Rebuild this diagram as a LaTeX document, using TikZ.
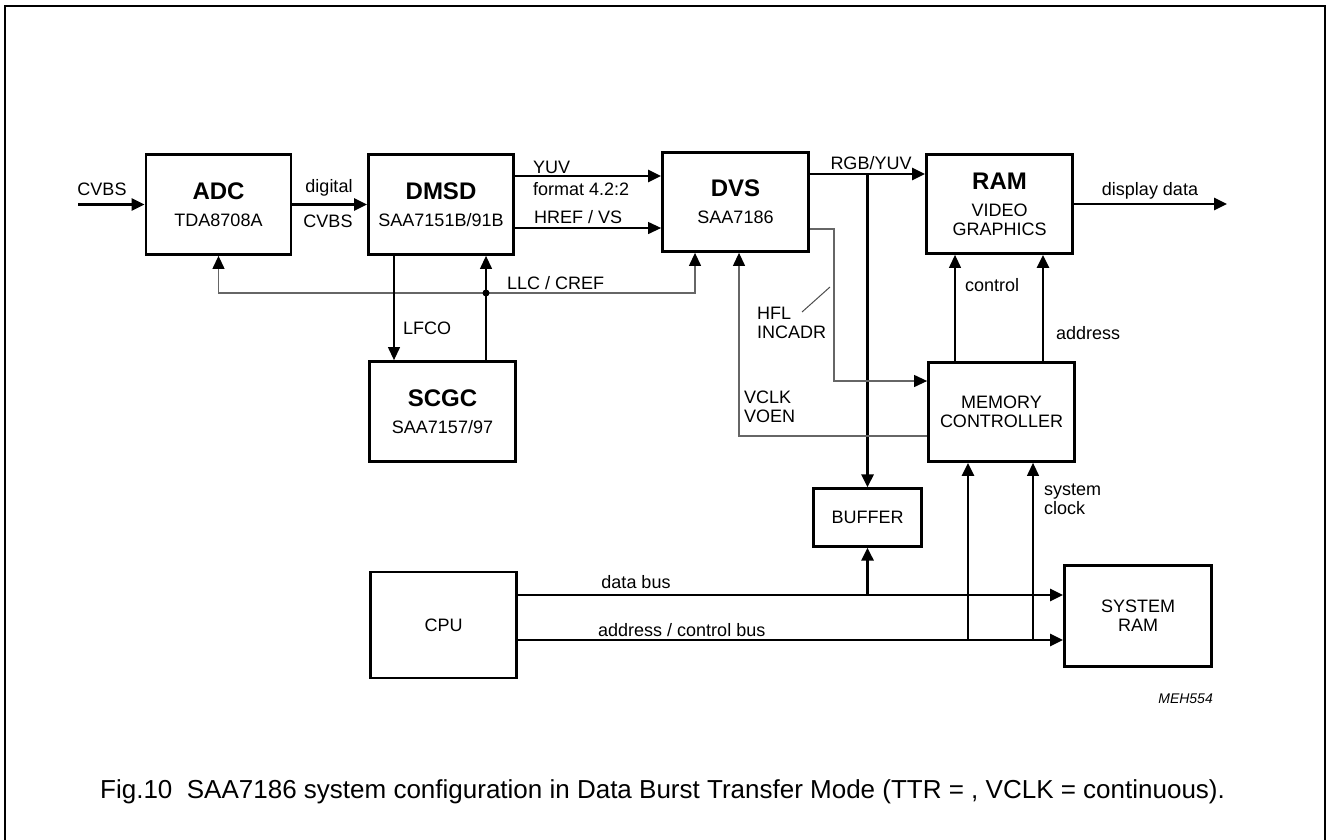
\documentclass[tikz,border=0pt]{standalone}
\usepackage{fontspec}
\setmainfont{Liberation Sans}
\usetikzlibrary{arrows.meta}

\begin{document}
\begin{tikzpicture}[x=1pt, y=-1pt,
  box/.style={draw, line width=2.8pt, inner sep=0pt, align=center,
    minimum width=145pt, minimum height=100pt, font=\fontsize{18}{19}\selectfont},
  lbl/.style={inner sep=0pt, font=\fontsize{18}{19}\selectfont},
  bus/.style={line width=2.8pt, -{Triangle[length=13pt, width=12pt]}},
  sig/.style={line width=1.2pt, -{Triangle[length=13pt, width=12pt, black]}},
  gsig/.style={sig, black!60}]
  \useasboundingbox (0,0) rectangle (1327,840);
  \draw[line width=2pt] (5,840) -- (5,6) -- (1325,6) -- (1325,840);

  % blocks
  \node[box] (adc) at (218.5, 204.5) {{\fontsize{24}{19}\selectfont\bfseries ADC}\\[8pt]TDA8708A};
  \node[box] (dmsd) at (441, 204.5) {{\fontsize{24}{19}\selectfont\bfseries DMSD}\\[8pt]SAA7151B/91B};
  \node[box, minimum width=146pt, minimum height=99pt] (dvs) at (735.5, 202) {{\fontsize{24}{19}\selectfont\bfseries DVS}\\[8pt]SAA7186};
  \node[box, minimum width=146pt, minimum height=99pt] (ram) at (999.5, 204) {{\fontsize{24}{19}\selectfont\bfseries RAM}\\[8pt]VIDEO\\GRAPHICS};
  \node[box, minimum width=146pt] (scgc) at (442.5, 411.5) {{\fontsize{24}{19}\selectfont\bfseries SCGC}\\[8pt]SAA7157/97};
  \node[box, minimum width=146pt, minimum height=99pt] (mc) at (1001.5, 412) {MEMORY\\CONTROLLER};
  \node[box, line width=2.2pt, minimum width=108pt, minimum height=58pt] (buffer) at (867.5, 517.5) {BUFFER};
  \node[box, minimum width=146pt, minimum height=106pt] (cpu) at (443.5, 625) {CPU};
  \node[box, minimum width=147pt, minimum height=101pt] (sysram) at (1138, 616) {SYSTEM\\RAM};

  % rows and corners
  \coordinate (cvbsin) at (78, 204.5);
  \coordinate (dispout) at (1227, 204);
  \coordinate (yuvrow) at (0, 176);
  \coordinate (hrefrow) at (0, 228);
  \coordinate (rgbrow) at (0, 174);
  \coordinate (llc) at (486, 293);
  \coordinate (llcr) at (695, 293);
  \coordinate (lfco) at (394, 330);
  \coordinate (hfltop) at (834, 229);
  \coordinate (hflbot) at (834, 381);
  \coordinate (vclk) at (739, 436);
  \coordinate (tick1) at (802, 312);
  \coordinate (tick2) at (830, 287);
  \coordinate (ctl) at (955, 300);
  \coordinate (addr) at (1043, 300);
  \coordinate (databus) at (0, 595);
  \coordinate (adrbus) at (0, 640);
  \coordinate (mcbus) at (968, 640);
  \coordinate (mcclk) at (1033, 640);

  % video path
  \draw[bus] (cvbsin) -- (adc);
  \draw[bus] (adc) -- (dmsd);
  \draw[bus] (dmsd.east |- yuvrow) -- (dvs.west |- yuvrow);
  \draw[sig] (dmsd.east |- hrefrow) -- (dvs.west |- hrefrow);
  \draw[bus] (dvs.east |- rgbrow) -- (ram.west |- rgbrow);
  \draw[bus] (buffer.north |- rgbrow) -- (buffer.north);
  \draw[bus] (ram.east |- dispout) -- (dispout);

  % clocks
  \draw[gsig] (llc) -- (adc.south |- llc) -- (adc.south);
  \draw[gsig] (llc) -- (llcr) -- (llcr |- dvs.south);
  \draw[sig] (scgc.north -| llc) -- (dmsd.south -| llc);
  \fill (llc) circle (3.5pt);
  \draw[sig] (dmsd.south -| lfco) -- (scgc.north -| lfco);

  % memory controller
  \draw[gsig] (dvs.east |- hfltop) -- (hfltop) -- (hflbot) -- (mc.west |- hflbot);
  \draw[black!70, line width=1pt] (tick1) -- (tick2);
  \draw[gsig] (mc.west |- vclk) -- (vclk) -- (vclk |- dvs.south);
  \draw[sig] (mc.north -| ctl) -- (ram.south -| ctl);
  \draw[bus] (mc.north -| addr) -- (ram.south -| addr);

  % buses
  \draw[bus] (cpu.east |- databus) -- (sysram.west |- databus);
  \draw[bus] (cpu.east |- adrbus) -- (sysram.west |- adrbus);
  \draw[bus] (buffer.south |- databus) -- (buffer.south);
  \draw[bus] (mcbus) -- (mc.south -| mcbus);
  \draw[sig] (mcclk) -- (mc.south -| mcclk);

  % labels
  \node[lbl] (l-cvbs) at (102, 189) {CVBS};
  \node[lbl] (l-digital) at (329, 188) {digital};
  \node[lbl] (l-cvbs2) at (328, 221) {CVBS};
  \node[lbl, anchor=west] (l-yuv) at (533, 167) {YUV};
  \node[lbl, anchor=west] (l-format) at (533, 189) {format 4.2:2};
  \node[lbl, anchor=west] (l-href) at (534, 217) {HREF / VS};
  \node[lbl, anchor=west] (l-llc) at (507, 283) {LLC / CREF};
  \node[lbl, anchor=west] (l-lfco) at (403, 328) {LFCO};
  \node[lbl] (l-rgb) at (871, 163) {RGB/YUV};
  \node[lbl] (l-disp) at (1150, 191) {display data};
  \node[lbl, anchor=west] (l-ctl) at (965, 285) {control};
  \node[lbl, anchor=west] (l-addr) at (1056, 333) {address};
  \node[lbl, anchor=west, align=left] (l-hfl) at (757, 322.5) {HFL\\INCADR};
  \node[lbl, anchor=west, align=left] (l-vclk) at (744, 406.5) {VCLK\\VOEN};
  \node[lbl, anchor=west, align=left] (l-clk) at (1044, 499.5) {system\\clock};
  \node[lbl] (l-data) at (636, 582) {data bus};
  \node[lbl, anchor=west] (l-adrbus) at (598, 630) {address / control bus};
  \node[lbl, anchor=east, font=\fontsize{14}{16}\selectfont\itshape] (l-code) at (1213, 699) {MEH554};
  \node[lbl, anchor=west, font=\fontsize{26}{28}\selectfont] (caption) at (100, 792)
    {Fig.10\ \ SAA7186 system configuration in Data Burst Transfer Mode (TTR = , VCLK = continuous).};
\end{tikzpicture}
\end{document}
